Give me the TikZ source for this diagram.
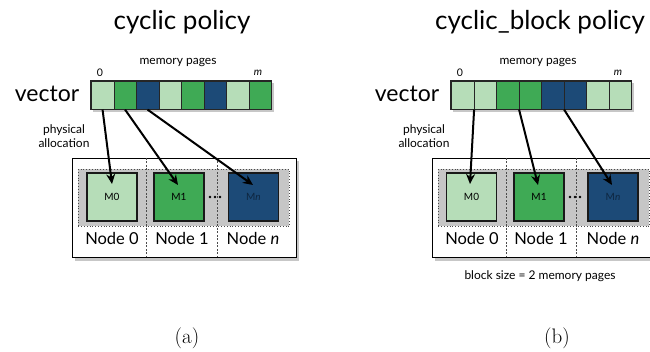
\documentclass[tikz,border=0pt]{standalone}
\usepackage{fontspec}
\newfontfamily\gill{Lato}
\usetikzlibrary{arrows.meta,calc}
\definecolor{lg}{HTML}{B6DDB8}
\definecolor{mg}{HTML}{3FAA55}
\definecolor{db}{HTML}{1C4A77}
\definecolor{bandc}{HTML}{C6C6C6}
\definecolor{mtext}{HTML}{0E2640}
\begin{document}
\begin{tikzpicture}[x=1pt,y=-1pt,
  title/.style={font=\gill\fontsize{26}{26}\selectfont, inner sep=0},
  big/.style={font=\gill\fontsize{23}{23}\selectfont, inner sep=0},
  small/.style={font=\gill\fontsize{12}{13.5}\selectfont, inner sep=0},
  cell/.style={draw=black!85, line width=0.6pt, minimum width=22.5pt, minimum height=28pt, inner sep=0, anchor=north west},
  outerbox/.style={draw=black, line width=1.1pt, fill=white, minimum width=224pt, minimum height=99pt, inner sep=0, anchor=north west},
  bandbox/.style={draw=black!70, dotted, line width=0.8pt, fill=bandc, minimum width=211pt, minimum height=57pt, inner sep=0, anchor=north west},
  sep/.style={draw=black!70, line width=0.6pt, dash pattern=on 2pt off 1.5pt},
  mbox/.style={draw=black!90, line width=1.3pt, minimum width=50pt, minimum height=48pt, inner sep=0, font=\gill\fontsize{10}{10}\selectfont},
  nodelab/.style={font=\gill\fontsize{16.5}{17}\selectfont, inner sep=0},
  arr/.style={line width=2pt, -{Stealth[length=10pt,width=9pt]}},
  sub/.style={font=\fontsize{21}{21}\selectfont, inner sep=0},
  shadowc/.style={fill=black!22}
]
\useasboundingbox (0,0) rectangle (650,352);
\clip (0,0) rectangle (650,352);

% ---------------- left panel ----------------
\node[title] (tA) at (182,22) {cyclic policy};
\node[big] (vA) at (47,94) {vector};
\node[small] (mpA) at (178,63) {memory pages};
\node[small, font=\gill\fontsize{10.5}{11}\selectfont] (zA) at (100,73) {0};
\node[small, font=\gill\fontsize{10.5}{11}\selectfont] (mA) at (258,73) {\textit{m}};
\fill[shadowc] (93,83) rectangle (274,112);
\foreach \i/\c in {0/lg,1/mg,2/db,3/lg,4/mg,5/db,6/lg,7/mg}
  \node[cell, fill=\c] (a\i) at ({91+22.5*\i},81) {};
\draw[line width=1.2pt, black!85] (a0.north west) rectangle (a7.south east);
\node[small, align=center] (paA) at (64,136) {physical\\allocation};

\fill[shadowc] (75,161) rectangle (299,261);
\node[outerbox] (obA) at (72,158) {};
\node[bandbox] (bbA) at (78,169) {};
\draw[sep] (146,158) -- (146,257);
\draw[sep] (217,158) -- (217,257);
\node[mbox, fill=lg] (MA0) at (112,197) {M0};
\node[mbox, fill=mg] (MA1) at (179,197) {M1};
\node[mbox, fill=db, text=mtext] (MAn) at (253.5,197) {M\textit{n}};
\foreach \dx in {-5,0,5} \fill (215+\dx,197) circle (1.3pt);
\node[nodelab] (nA0) at (112,238) {Node 0};
\node[nodelab] (nA1) at (182,238) {Node 1};
\node[nodelab] (nAn) at (253,238) {Node \textit{n}};

\coordinate (tA0) at (112,184);
\coordinate (tA1) at (178,185);
\coordinate (tAn) at (253,185);
\draw[arr] (a0.south) -- (tA0);
\draw[arr] (a1.south) -- (tA1);
\draw[arr] (a2.south) -- (tAn);

\node[sub] (capA) at (187,338) {(a)};

% ---------------- right panel ----------------
\node[title] (tB) at (540,22) {cyclic\_block policy};
\node[big] (vB) at (407,94) {vector};
\node[small] (mpB) at (538,63) {memory pages};
\node[small, font=\gill\fontsize{10.5}{11}\selectfont] (zB) at (460,73) {0};
\node[small, font=\gill\fontsize{10.5}{11}\selectfont] (mB) at (618,73) {\textit{m}};
\fill[shadowc] (453,83) rectangle (634,112);
\foreach \i/\c in {0/lg,1/lg,2/mg,3/mg,4/db,5/db,6/lg,7/lg}
  \node[cell, fill=\c] (b\i) at ({451+22.5*\i},81) {};
\draw[line width=1.2pt, black!85] (b0.north west) rectangle (b7.south east);
\node[small, align=center] (paB) at (424,136) {physical\\allocation};

\fill[shadowc] (435,161) rectangle (659,261);
\node[outerbox] (obB) at (432,158) {};
\node[bandbox] (bbB) at (438,169) {};
\draw[sep] (506,158) -- (506,257);
\draw[sep] (576,158) -- (576,257);
\node[mbox, fill=lg] (MB0) at (471.5,197) {M0};
\node[mbox, fill=mg] (MB1) at (539,197) {M1};
\node[mbox, fill=db, text=mtext] (MBn) at (613,197) {M\textit{n}};
\foreach \dx in {-5,0,5} \fill (575+\dx,197) circle (1.3pt);
\node[nodelab] (nB0) at (472,238) {Node 0};
\node[nodelab] (nB1) at (541,238) {Node 1};
\node[nodelab] (nBn) at (613,238) {Node \textit{n}};
\node[small] (bsB) at (540,276) {block size = 2 memory pages};

\coordinate (tB0) at (470,184);
\coordinate (tB1) at (538,185);
\coordinate (tBn) at (612,185);
\draw[arr] (b0.south east) -- (tB0);
\draw[arr] (b2.south east) -- (tB1);
\draw[arr] (b4.south east) -- (tBn);

\node[sub] (capB) at (557,338) {(b)};
\end{tikzpicture}
\end{document}
